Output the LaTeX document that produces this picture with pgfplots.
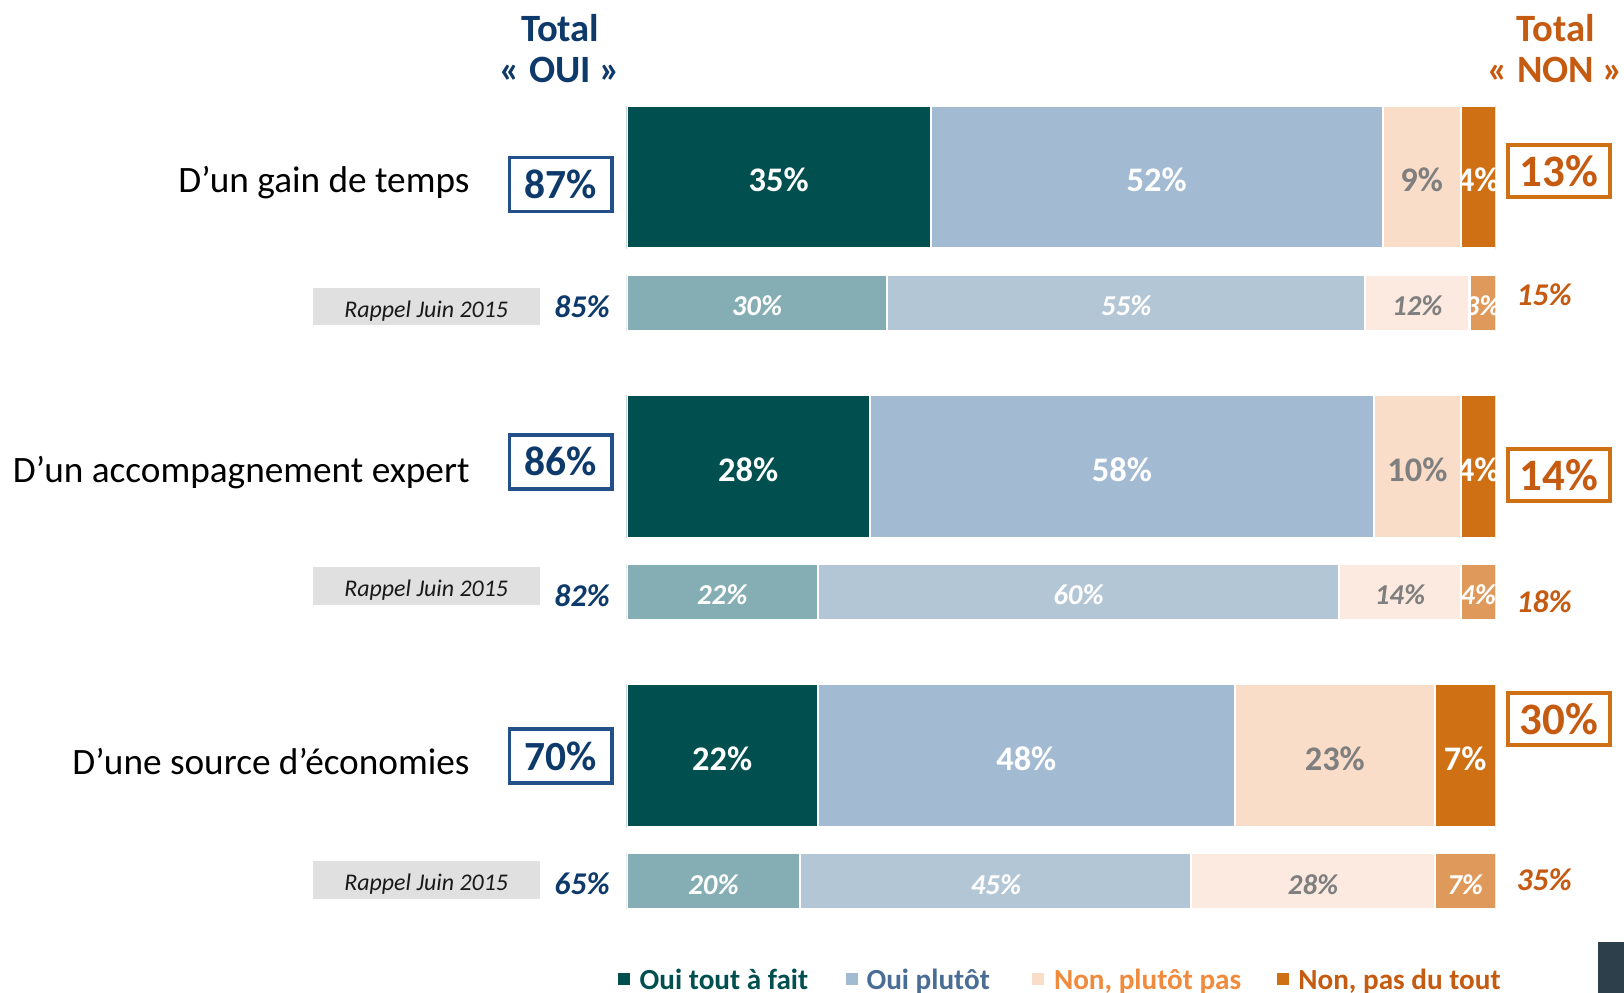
\documentclass[border=0pt]{standalone}
\usepackage{fontspec}
\setmainfont{Carlito}
\usepackage{pgfplots}
\pgfplotsset{compat=1.18}
\usepackage{pgfplotstable}

\definecolor{ouitaf}{HTML}{024F50}
\definecolor{ouipl}{HTML}{A2BBD3}
\definecolor{nonpl}{HTML}{FADDC9}
\definecolor{nonpdt}{HTML}{D07014}
\definecolor{ouitafR}{HTML}{84AEB4}
\definecolor{ouiplR}{HTML}{B3C6D5}
\definecolor{nonplR}{HTML}{FCEAE0}
\definecolor{nonpdtR}{HTML}{DF9A5B}
\definecolor{bleu}{HTML}{0E3A6B}
\definecolor{bleubox}{HTML}{24508A}
\definecolor{orng}{HTML}{C55A11}
\definecolor{grislab}{HTML}{7F7F7F}
\definecolor{rappel}{HTML}{E0E0E0}
\definecolor{legpl}{HTML}{4A6D96}
\definecolor{legnpp}{HTML}{F08A3C}
\definecolor{darkbox}{HTML}{2E3F4C}

\newcommand\fsz[1]{\fontsize{#1}{#1}\selectfont}
\newcommand\bigf{\bfseries\fsz{9.8pt}}
\newcommand\smallf{\bfseries\itshape\fsz{8.2pt}}

% y = vertical position of the bar (pixels from the top)
\pgfplotstableread{
y     taf pl npp npt
171   35  52  9  4
450.5 28  58 10  4
730   22  48 23  7
}\vague
\pgfplotstableread{
y     taf pl npp npt
292.5 30  55 12  3
571.5 22  60 14  4
851   20  45 28  7
}\rappeljuin

% bar axes: 100 % = 8.6896cm, clipped at the end of the bars
\pgfplotsset{
  common/.style={scale only axis, height=9.93cm, ymin=0, ymax=959,
    y dir=reverse, hide axis},
  bars/.style={common, at={(6.266cm,0)}, anchor=south west, width=8.6896cm,
    xmin=0, xmax=100, xbar stacked, clip=true, clip marker paths=true},
  seg/.style n args={3}{fill=#1, draw=white, line width=0.6pt,
    point meta=explicit symbolic,
    nodes near coords={\pgfplotspointmeta\%},
    every node near coord/.append style={text=#2, font=#3, anchor=center,
      inner sep=0pt, yshift=-0.9pt}},
}

\begin{document}
\begin{tikzpicture}

% barres vague actuelle
\begin{axis}[bars, bar width=138]
\addplot[seg={ouitaf}{white}{\bigf}] table[x=taf,y=y,meta=taf]{\vague};
\addplot[seg={ouipl}{white}{\bigf}] table[x=pl,y=y,meta=pl]{\vague};
\addplot[seg={nonpl}{grislab}{\bigf}] table[x=npp,y=y,meta=npp]{\vague};
\addplot[seg={nonpdt}{white}{\bigf}] table[x=npt,y=y,meta=npt]{\vague};
\end{axis}

% barres rappel juin 2015
\begin{axis}[bars, bar width=54]
\addplot[seg={ouitafR}{white}{\smallf}] table[x=taf,y=y,meta=taf]{\rappeljuin};
\addplot[seg={ouiplR}{white}{\smallf}] table[x=pl,y=y,meta=pl]{\rappeljuin};
\addplot[seg={nonplR}{grislab}{\smallf}] table[x=npp,y=y,meta=npp]{\rappeljuin};
\addplot[seg={nonpdtR}{white}{\smallf}] table[x=npt,y=y,meta=npt]{\rappeljuin};
\end{axis}

% textes autour
\begin{axis}[common, at={(0,0)}, anchor=south west, width=16.24cm,
  xmin=-72.11, xmax=114.78, clip=false]
\path (rel axis cs:0,0) rectangle (rel axis cs:1,1);

\begin{scope}[font=\bfseries\fsz{11pt}, text=bleu]
\node at (axis cs:-7.63,27) {Total};
\node at (axis cs:-7.63,68) {« OUI »};
\end{scope}
\begin{scope}[font=\bfseries\fsz{11pt}, text=orng]
\node at (axis cs:106.9,27) {Total};
\node at (axis cs:106.9,68) {« NON »};
\end{scope}

\begin{scope}[font=\fsz{10.6pt}]
\node[anchor=east, inner sep=0pt] at (axis cs:-18.0,176) {D’un gain de temps};
\node[anchor=east, inner sep=0pt] at (axis cs:-18.0,456) {D’un accompagnement expert};
\node[anchor=east, inner sep=0pt] at (axis cs:-18.0,735) {D’une source d’économies};
\end{scope}

\tikzset{oui/.style={draw=bleubox, line width=1pt, text=bleu, font=\bfseries\fsz{11.8pt},
    minimum width=1.025cm, minimum height=0.539cm, inner sep=0pt},
  non/.style={draw=nonpdt, line width=1pt, text=orng, font=\bfseries\fsz{12.8pt},
    minimum width=1.025cm, minimum height=0.52cm, inner sep=0pt},
  rap/.style={fill=rappel, minimum width=2.27cm, minimum height=0.373cm, inner sep=0pt},
  vouis/.style={font=\bfseries\itshape\fsz{9pt}, text=bleu, inner sep=0pt},
  vnons/.style={font=\bfseries\itshape\fsz{9pt}, text=orng, inner sep=0pt}}

\node[oui] at (axis cs:-7.57,178) {87\%};
\node[oui] at (axis cs:-7.57,446) {86\%};
\node[oui] at (axis cs:-7.57,730) {70\%};

\node[non] at (axis cs:107.3,165) {13\%};
\node[non] at (axis cs:107.3,458.5) {14\%};
\node[non] at (axis cs:107.3,694.5) {30\%};

\node[rap] at (axis cs:-23.06,296) {};
\node[rap] at (axis cs:-23.06,566) {};
\node[rap] at (axis cs:-23.06,850) {};
\begin{scope}[font=\itshape\fsz{6.8pt}, text=black!90, inner sep=0pt]
\node at (axis cs:-23.06,300) {Rappel Juin 2015};
\node at (axis cs:-23.06,570) {Rappel Juin 2015};
\node at (axis cs:-23.06,854) {Rappel Juin 2015};
\end{scope}

\node[vouis] at (axis cs:-5.13,296) {85\%};
\node[vouis] at (axis cs:-5.13,575) {82\%};
\node[vouis] at (axis cs:-5.13,853) {65\%};

\node[vnons] at (axis cs:105.6,285) {15\%};
\node[vnons] at (axis cs:105.6,581) {18\%};
\node[vnons] at (axis cs:105.6,850) {35\%};

% legende
\begin{scope}[font=\bfseries\fsz{8.3pt}]
\node[fill=ouitaf, minimum size=0.12cm, inner sep=0pt, anchor=south west] at (axis cs:-1.07,952) {};
\node[anchor=base west, inner sep=0pt, text=ouitaf] at (axis cs:1.43,956) {Oui tout à fait};
\node[fill=ouipl, minimum size=0.12cm, inner sep=0pt, anchor=south west] at (axis cs:25.15,952) {};
\node[anchor=base west, inner sep=0pt, text=legpl] at (axis cs:27.53,956) {Oui plutôt};
\node[fill=nonpl, minimum size=0.12cm, inner sep=0pt, anchor=south west] at (axis cs:46.60,952) {};
\node[anchor=base west, inner sep=0pt, text=legnpp] at (axis cs:49.11,956) {Non, plutôt pas};
\node[fill=nonpdt, minimum size=0.12cm, inner sep=0pt, anchor=south west] at (axis cs:74.73,952) {};
\node[anchor=base west, inner sep=0pt, text=orng] at (axis cs:77.23,956) {Non, pas du tout};
\end{scope}

\fill[darkbox] (axis cs:111.8,910) rectangle (axis cs:114.78,959);
\end{axis}

\pgfresetboundingbox
\path (0,0) rectangle (16.24cm,9.93cm);
\end{tikzpicture}
\end{document}
